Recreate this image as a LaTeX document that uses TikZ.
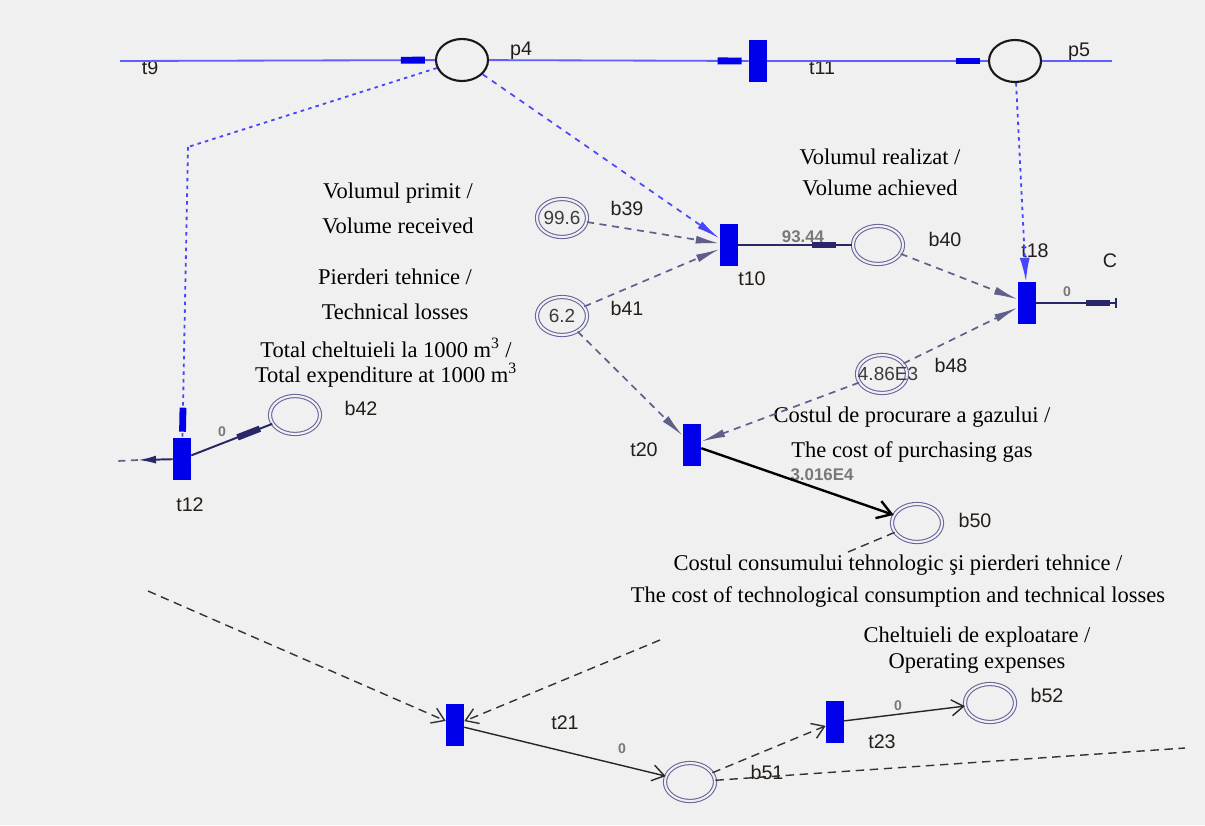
\documentclass[tikz,border=0pt]{standalone}
\usepackage{fontspec}
\setmainfont{Liberation Serif}
\setsansfont{Liberation Sans}
\usetikzlibrary{shapes.geometric,arrows.meta,decorations.markings}

\definecolor{bgcol}{RGB}{240,240,240}
\definecolor{lineblue}{RGB}{95,95,250}
\definecolor{dotblue}{RGB}{70,70,250}
\definecolor{rectblue}{RGB}{0,0,235}
\definecolor{navycol}{RGB}{40,40,105}
\definecolor{ndashcol}{RGB}{95,95,140}
\definecolor{ringcol}{RGB}{100,100,155}
\definecolor{lblcol}{RGB}{35,30,25}
\definecolor{numcol}{RGB}{120,120,120}
\definecolor{tokcol}{RGB}{60,60,60}

\newcommand{\notefont}{\fontsize{16}{24.8}\selectfont}
\newcommand{\lblfont}{\sffamily\fontsize{14}{16}\selectfont}
\newcommand{\numfont}{\sffamily\bfseries\fontsize{12}{14}\selectfont}
\newcommand{\zerofont}{\sffamily\bfseries\fontsize{10}{12}\selectfont}
\newcommand{\tokfont}{\sffamily\fontsize{13.5}{15}\selectfont}

\begin{document}
\begin{tikzpicture}[x=0.025cm, y=-0.025cm,
    trans/.style={rectangle, fill=rectblue, minimum width=0.45cm, minimum height=1.05cm, inner sep=0pt},
    place/.style={ellipse, draw=black!90, line width=1.5pt, minimum width=1.3cm, minimum height=1.05cm, inner sep=0pt},
    bplace/.style={ellipse, draw=ringcol, line width=0.75pt, double=bgcol, double distance=1.5pt, minimum width=1.25cm, minimum height=0.95cm, inner sep=0pt},
    tok/.style={font=\tokfont, text=tokcol, inner sep=0pt},
    lbl/.style={font=\lblfont, text=lblcol, inner sep=0pt},
    num/.style={font=\numfont, text=numcol, inner sep=0pt},
    zero/.style={font=\zerofont, text=numcol, inner sep=0pt},
    note/.style={font=\notefont, align=center, inner sep=0pt},
    tokmark/.style={postaction={decorate}, decoration={markings, mark=at position -#1 with {\arrow{Rectangle[length=0.6cm,width=0.16cm]}}}},
    bluemark/.style={postaction={decorate}, decoration={markings, mark=at position -#1 with {\arrow[rectblue]{Rectangle[length=0.6cm,width=0.17cm]}}}},
    toparc/.style={draw=lineblue, line width=1.3pt},
    dotarc/.style={draw=dotblue, line width=1.3pt, dash pattern=on 2.5pt off 3pt},
    dasharc/.style={draw=dotblue, line width=1.2pt, dash pattern=on 4pt off 4pt, -{Latex[length=0.6cm,width=0.2cm]}},
    navyarc/.style={draw=navycol, line width=1.4pt},
    ndash/.style={draw=ndashcol, line width=1.2pt, dash pattern=on 5pt off 4pt, -{Latex[length=0.6cm,width=0.2cm]}},
    kdash/.style={draw=black!80, line width=1pt, dash pattern=on 6pt off 4pt},
    kdart/.style={-{Straight Barb[length=0.3cm,width=0.4cm]}},
    karc/.style={draw=black!85, line width=1pt, kdart}]

  \useasboundingbox (0,0) rectangle (1205,825);
  \fill[bgcol] (0,0) rectangle (1205,825);

  % places and transitions
  \node[place] (p4) at (462,60) {};
  \node[trans] (t11) at (758,61) {};
  \node[place] (p5) at (1015,61) {};
  \node[trans] (t10) at (729,245) {};
  \node[trans] (t18) at (1027,303) {};
  \node[trans] (t12) at (182,459) {};
  \node[trans] (t20) at (692,445) {};
  \node[trans] (t21) at (455,725) {};
  \node[trans] (t23) at (835,722) {};
  \node[bplace] (b39) at (562,218) {};
  \node[bplace] (b41) at (562,316) {};
  \node[bplace] (b40) at (878,245) {};
  \node[bplace] (b48) at (882,374) {};
  \node[bplace] (b42) at (295,415) {};
  \node[bplace] (b50) at (917,523) {};
  \node[bplace] (b51) at (690,782) {};
  \node[bplace] (b52) at (990,703) {};

  \node[tok] (b39v) at (b39) {99.6};
  \node[tok] (b41v) at (b41) {6.2};
  \node[tok] (b48v) at (888,374) {4.86E3};

  % free ends
  \coordinate (t9) at (120,61);
  \coordinate (p5out) at (1112,61);
  \coordinate (k1) at (188,147);
  \coordinate (t18out) at (1117,303);
  \coordinate (t12out) at (138,460);
  \coordinate (t12end) at (118,461);
  \coordinate (b50out) at (848,552);
  \coordinate (kin1) at (148,591);
  \coordinate (kin2) at (660,640);
  \coordinate (kout) at (1185,748);

  % names
  \node[lbl] (t9l) at (150,68) {t9};
  \node[lbl] (p4l) at (521,51) {p4};
  \node[lbl] (t11l) at (822,68) {t11};
  \node[lbl] (p5l) at (1079,52) {p5};
  \node[lbl] (b39l) at (627,208) {b39};
  \node[lbl] (b41l) at (627,308) {b41};
  \node[lbl] (t10l) at (752,279) {t10};
  \node[lbl] (b40l) at (945,239) {b40};
  \node[lbl] (t18l) at (1035,251) {t18};
  \node[lbl] (cl) at (1110,261) {C};
  \node[lbl] (b48l) at (951,365) {b48};
  \node[lbl] (t20l) at (644,450) {t20};
  \node[lbl] (b42l) at (361,408) {b42};
  \node[lbl] (t12l) at (190,505) {t12};
  \node[lbl] (b50l) at (975,520) {b50};
  \node[lbl] (t21l) at (565,723) {t21};
  \node[lbl] (b51l) at (767,772) {b51};
  \node[lbl] (t23l) at (882,742) {t23};
  \node[lbl] (b52l) at (1047,695) {b52};

  % weights
  \node[num] (w1) at (803,237) {93.44};
  \node[zero] (w2) at (222,432) {0};
  \node[zero] (w3) at (1067,292) {0};
  \node[num] (w4) at (822,475) {3.016E4};
  \node[zero] (w5) at (622,749) {0};
  \node[zero] (w6) at (898,706) {0};

  % notes
  \node[note] (n1) at (398,208) {Volumul primit /\\Volume received};
  \node[note] (n2) at (395,294) {Pierderi tehnice /\\Technical losses};
  \node[note, font=\fontsize{16}{17.7}\selectfont] (n3) at (386,363)
    {Total cheltuieli la 1000 m\textsuperscript{3} /\\Total expenditure at 1000 m\textsuperscript{3}};
  \node[note, font=\fontsize{16}{22}\selectfont] (n4) at (880,172) {Volumul realizat /\\Volume achieved};
  \node[note] (n5) at (912,435) {Costul de procurare a gazului /\\The cost of purchasing gas};
  \node[note, font=\fontsize{16}{23}\selectfont] (n6) at (898,581)
    {Costul consumului tehnologic şi pierderi tehnice /\\The cost of technological consumption and technical losses};
  \node[note, font=\fontsize{16}{19}\selectfont] (n7) at (977,650) {Cheltuieli de exploatare /\\Operating expenses};

  % top row
  \draw[toparc, bluemark=0.25cm] (t9) -- (p4);
  \draw[toparc, bluemark=0.18cm] (p4) -- (t11);
  \draw[toparc, bluemark=0.2cm] (t11) -- (p5);
  \draw[toparc] (p5) -- (p5out);
  \draw[dotarc] (p4) -- (k1);
  \draw[dotarc, bluemark=0.15cm] (k1) -- (t12);
  \draw[dasharc] (p4) -- (t10);
  \draw[dotarc, -{Latex[length=0.6cm,width=0.25cm]}] (p5) -- (t18);

  % middle
  \draw[ndash] (b39) -- (t10);
  \draw[ndash] (b41) -- (t10);
  \draw[navyarc, tokmark=0.42cm] (t10) -- (b40);
  \draw[ndash] (b40) -- (t18);
  \draw[ndash] (b48) -- (t18);
  \draw[navyarc, tokmark=0.18cm, -{Bar[width=0.25cm]}] (t18) -- (t18out);
  \draw[ndash] (b41) -- (t20);
  \draw[ndash] (b48) -- (t20);
  \draw[black, line width=1.7pt, -{Straight Barb[length=0.35cm,width=0.45cm]}] (t20) -- (b50);
  \draw[kdash] (b50) -- (b50out);
  \draw[navyarc, tokmark=0.33cm] (t12) -- (b42);
  \draw[navyarc, -{Latex[length=0.45cm,width=0.2cm]}] (t12) -- (t12out);
  \draw[ndash, -] (t12out) -- (t12end);

  % bottom
  \draw[kdash, kdart] (kin1) -- (t21);
  \draw[kdash, kdart] (kin2) -- (t21);
  \draw[karc] (t21) -- (b51);
  \draw[kdash, kdart] (b51) -- (t23);
  \draw[kdash] (b51) -- (kout);
  \draw[karc] (t23) -- (b52);
\end{tikzpicture}
\end{document}
